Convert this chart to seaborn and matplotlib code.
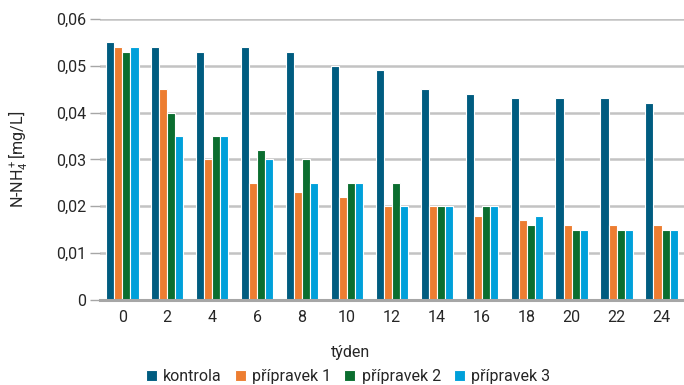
import matplotlib
matplotlib.use("Agg")
import matplotlib.pyplot as plt
import seaborn as sns
import pandas as pd
from matplotlib.ticker import FuncFormatter

weeks = [0, 2, 4, 6, 8, 10, 12, 14, 16, 18, 20, 22, 24]
kontrola = [0.055, 0.054, 0.053, 0.054, 0.053, 0.050, 0.049, 0.045, 0.044, 0.043, 0.043, 0.043, 0.042]
pripravek1 = [0.054, 0.045, 0.030, 0.025, 0.023, 0.022, 0.020, 0.020, 0.018, 0.017, 0.016, 0.016, 0.016]
pripravek2 = [0.053, 0.040, 0.035, 0.032, 0.030, 0.025, 0.025, 0.020, 0.020, 0.016, 0.015, 0.015, 0.015]
pripravek3 = [0.054, 0.035, 0.035, 0.030, 0.025, 0.025, 0.020, 0.020, 0.020, 0.018, 0.015, 0.015, 0.015]
series_names = ["kontrola", "přípravek 1", "přípravek 2", "přípravek 3"]
colors = ["#005C80", "#ED7D31", "#0B6E2F", "#00A0DA"]
yticks = [0, 0.01, 0.02, 0.03, 0.04, 0.05, 0.06]

rows = []
for name, vals in zip(series_names, [kontrola, pripravek1, pripravek2, pripravek3]):
    for w, v in zip(weeks, vals):
        rows.append({"týden": str(w), "serie": name, "hodnota": v})
df = pd.DataFrame(rows)

sns.set_theme(style="white")
plt.rcParams["font.family"] = ["Roboto", "DejaVu Sans"]
plt.rcParams["mathtext.fontset"] = "custom"
plt.rcParams["mathtext.rm"] = "Roboto"
plt.rcParams["mathtext.it"] = "Roboto"

text_color = "#262626"
fig = plt.figure(figsize=(6.84, 3.85), dpi=100)
ax = fig.add_axes([0.146, 0.221, 0.854, 0.730])

sns.barplot(data=df, x="týden", y="hodnota", hue="serie", palette=colors,
            order=[str(w) for w in weeks], hue_order=series_names,
            width=0.72, edgecolor="white", linewidth=0.8, saturation=1, ax=ax)

ax.set_ylim(0, 0.06)
ax.set_yticks(yticks)
ax.yaxis.set_major_formatter(FuncFormatter(lambda v, p: "0" if v == 0 else f"{v:.2f}".replace(".", ",")))
ax.grid(axis="y", color="#C3C3C3", linewidth=1.8, zorder=0)
ax.set_axisbelow(True)
for s in ["top", "right", "left"]:
    ax.spines[s].set_visible(False)
ax.spines["bottom"].set_color("#A6A6A6")
ax.spines["bottom"].set_linewidth(2.2)
ax.tick_params(axis="y", length=7, width=1, color="#A6A6A6", left=True, labelsize=11.5, pad=3, labelcolor=text_color)
ax.tick_params(axis="x", length=0, labelsize=11.5, pad=7, labelcolor=text_color)
ax.set_xlabel("týden", fontsize=11.5, color=text_color)
ax.xaxis.set_label_coords(0.43, -0.16)
ax.set_ylabel("N-NH$_4^+$[mg/L]", fontsize=11.5, color=text_color, va="center")
ax.yaxis.set_label_coords(-0.14, 0.5)

ax.legend(loc="center", bbox_to_anchor=(0.425, -0.274), ncol=4, frameon=False,
          fontsize=11.5, handlelength=0.7, handleheight=0.7, handletextpad=0.4,
          columnspacing=0.8, borderaxespad=0, borderpad=0)

fig.savefig("out.png", dpi=100)
